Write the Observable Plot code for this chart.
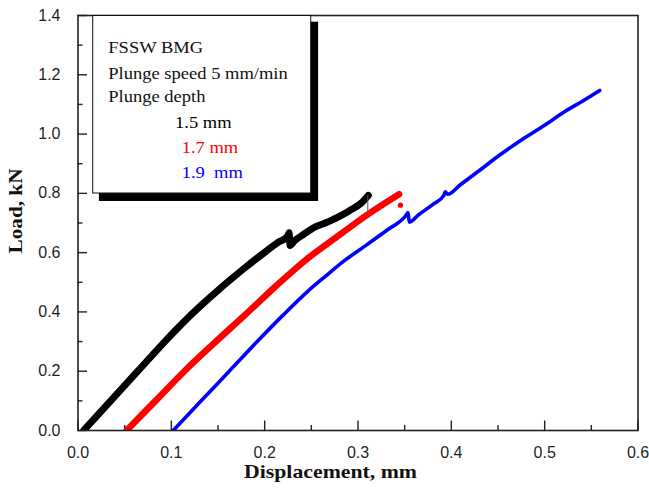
<!DOCTYPE html>
<html>
<head>
<meta charset="utf-8">
<script src="https://cdn.jsdelivr.net/npm/d3@7"></script>
<script src="https://cdn.jsdelivr.net/npm/@observablehq/plot@0.6"></script>
<style>
  html, body { margin: 0; padding: 0; background: #fff; }
  #chart { width: 649px; height: 492px; }
</style>
</head>
<body>
<div id="chart"></div>
<script>
// ---- tick values ----
const xTicks = [0, 0.1, 0.2, 0.3, 0.4, 0.5, 0.6];
const xMinor = [0.05, 0.15, 0.25, 0.35, 0.45, 0.55];
const yTicks = [0, 0.2, 0.4, 0.6, 0.8, 1.0, 1.2, 1.4];
const yMinor = [0.1, 0.3, 0.5, 0.7, 0.9, 1.1, 1.3];

// ---- titles / legend text ----
const xTitle = "Displacement, mm";
const yTitle = "Load, kN";
const legendHeader = ["FSSW BMG", "Plunge speed 5 mm/min", "Plunge depth"];
const seriesNames = ["1.5 mm", "1.7 mm", "1.9  mm"];
const seriesColors = ["#000000", "#ff0000", "#0000ff"];

// ---- series: plunge depth 1.5 mm (black) ----
const d15X = [0.006, 0.035, 0.064, 0.093, 0.108, 0.122, 0.136, 0.150, 0.165, 0.180, 0.200, 0.214, 0.2245, 0.2262, 0.2272, 0.232, 0.242, 0.252, 0.265, 0.278, 0.290, 0.303, 0.311];
const d15Y = [0.000, 0.100, 0.200, 0.300, 0.349, 0.393, 0.434, 0.473, 0.513, 0.552, 0.601, 0.634, 0.655, 0.667, 0.624, 0.640, 0.662, 0.683, 0.700, 0.719, 0.740, 0.766, 0.793];
// thin drop line at the end of the 1.5 mm curve
const d15DropX = [0.3105, 0.3105];
const d15DropY = [0.793, 0.735];

// ---- series: plunge depth 1.7 mm (red) ----
const d17X = [0.052, 0.083, 0.114, 0.146, 0.179, 0.213, 0.245, 0.278, 0.311, 0.344];
const d17Y = [0.000, 0.100, 0.200, 0.295, 0.390, 0.490, 0.578, 0.655, 0.730, 0.797];
const d17DotX = [0.3455];
const d17DotY = [0.760];

// ---- series: plunge depth 1.9 mm (blue) ----
const d19X = [0.102, 0.132, 0.162, 0.192, 0.220, 0.247, 0.265, 0.283, 0.310, 0.332, 0.3515, 0.3535, 0.3550, 0.365, 0.380, 0.392, 0.3935, 0.396, 0.410, 0.430, 0.450, 0.475, 0.500, 0.522, 0.540, 0.559];
const d19Y = [0.000, 0.100, 0.200, 0.300, 0.390, 0.472, 0.520, 0.567, 0.628, 0.678, 0.726, 0.735, 0.703, 0.728, 0.762, 0.793, 0.805, 0.797, 0.830, 0.877, 0.925, 0.980, 1.030, 1.077, 1.110, 1.147];

const toRows = (xs, ys) => xs.map((x, i) => ({x, y: ys[i]}));
const s15 = toRows(d15X, d15Y);
const s15drop = toRows(d15DropX, d15DropY);
const s17 = toRows(d17X, d17Y);
const s17dot = toRows(d17DotX, d17DotY);
const s19 = toRows(d19X, d19Y);

const W = 649, H = 492;
const mL = 77.5, mR = 11.5, mT = 15, mB = 62;
const frameW = W - mL - mR, frameH = H - mT - mB;
const fmt = d3.format(".1f");
const serif = "'Liberation Serif', 'Times New Roman', serif";

const chart = Plot.plot({
  width: W, height: H,
  marginLeft: mL, marginRight: mR, marginTop: mT, marginBottom: mB,
  x: {domain: [0, 0.6]},
  y: {domain: [0, 1.4]},
  style: {fontFamily: "'Liberation Sans', Arial, sans-serif", fontSize: "16px", color: "#1f1f1f", background: "#fff"},
  marks: [
    Plot.axisX(xTicks, {tickSize: 0, tickPadding: 16.5, tickFormat: fmt, fontSize: 16, label: null}),
    Plot.axisY(yTicks, {tickSize: 0, tickPadding: 17.5, tickFormat: fmt, fontSize: 16, label: null}),
    // inward ticks
    Plot.tickX(xTicks, {x: d => d, insetTop: frameH - 9.5, stroke: "#222", strokeWidth: 1.4}),
    Plot.tickX(xMinor, {x: d => d, insetTop: frameH - 5, stroke: "#222", strokeWidth: 1.4}),
    Plot.tickY(yTicks, {y: d => d, insetRight: frameW - 9.5, stroke: "#222", strokeWidth: 1.4}),
    Plot.tickY(yMinor, {y: d => d, insetRight: frameW - 5, stroke: "#222", strokeWidth: 1.4}),
    // curves
    Plot.line(s19, {x: "x", y: "y", curve: "monotone-x", stroke: seriesColors[2], strokeWidth: 3.6, strokeLinejoin: "round", strokeLinecap: "round", clip: true}),
    Plot.line(s17, {x: "x", y: "y", curve: "monotone-x", stroke: seriesColors[1], strokeWidth: 6.5, strokeLinejoin: "round", strokeLinecap: "round", clip: true}),
    Plot.dot(s17dot, {x: "x", y: "y", r: 2.6, fill: seriesColors[1], stroke: "none"}),
    Plot.line(s15, {x: "x", y: "y", curve: "monotone-x", stroke: seriesColors[0], strokeWidth: 7, strokeLinejoin: "round", strokeLinecap: "round", clip: true}),
    Plot.line(s15drop, {x: "x", y: "y", stroke: "#555", strokeWidth: 1}),
    Plot.frame({stroke: "#222", strokeWidth: 1.6}),
    // x axis title
    Plot.text([xTitle], {text: d => d, frameAnchor: "bottom", dx: -27.5, dy: 47.5, fontFamily: serif, fontWeight: "bold", fontSize: 19, fill: "#111", className: "xtitle"})
  ]
});

document.getElementById("chart").appendChild(chart);

const svg = d3.select(chart);
svg.selectAll(".xtitle text").attr("textLength", 173).attr("lengthAdjust", "spacingAndGlyphs");

// ---- y axis title (rotated, horizontally stretched like the original) ----
svg.append("text")
  .attr("transform", "translate(21.5,211) rotate(-90) scale(1.18,1)")
  .attr("text-anchor", "middle")
  .attr("font-family", serif)
  .attr("font-weight", "bold")
  .attr("font-size", 18)
  .attr("fill", "#111")
  .text(yTitle);

// ---- legend box (annotation) ----
const bx = mL + 15.2, by = mT + 0.5, bw = 218, bh = 177.5;
const lg = svg.append("g").attr("class", "legend").attr("text-anchor", "start");
lg.append("rect").attr("x", bx + 6.2).attr("y", by + 6.2).attr("width", bw + 1.2).attr("height", bh + 1.8).attr("fill", "#000");
lg.append("rect").attr("x", bx).attr("y", by).attr("width", bw).attr("height", bh).attr("fill", "#fff").attr("stroke", "#111").attr("stroke-width", 1);

const lines = [
  {t: legendHeader[0], dx: 15.6, y: 53.3, c: "#111"},
  {t: legendHeader[1], dx: 15.6, y: 79, c: "#111"},
  {t: legendHeader[2], dx: 15.6, y: 102.3, c: "#111"},
  {t: seriesNames[0], dx: 82.3, y: 128.3, c: seriesColors[0]},
  {t: seriesNames[1], dx: 89, y: 153.3, c: seriesColors[1]},
  {t: seriesNames[2], dx: 89, y: 178.3, c: seriesColors[2]}
];
lines.forEach(l => {
  lg.append("text")
    .attr("transform", `translate(${bx + l.dx},${l.y}) scale(1.09,1)`)
    .attr("text-anchor", "start")
    .attr("font-family", serif)
    .attr("font-size", 17)
    .attr("fill", l.c)
    .style("white-space", "pre")
    .text(l.t);
});
</script>
</body>
</html>
